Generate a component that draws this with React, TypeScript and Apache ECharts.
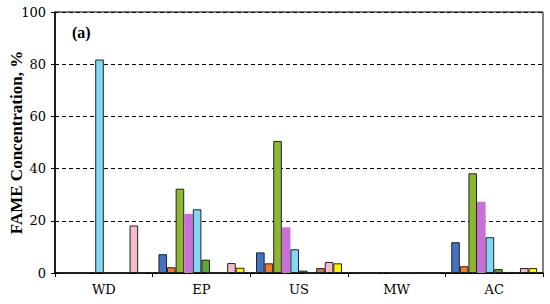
import React, { useEffect, useRef } from "react";
import * as echarts from "echarts";

const categories = ["WD", "EP", "US", "MW", "AC"];
const seriesNames = ["S1", "S2", "S3", "S4", "S5", "S6", "S7", "S8", "S9", "S10"];
const seriesColors = ["#4472C4", "#ED7D31", "#8DB731", "#C870D8", "#82D8F4", "#5FA83C", "#1F3A78", "#C0786A", "#F2BCC8", "#FFF200"];
const s1 = [0, 7.2, 7.9, 0, 11.8];
const s2 = [0, 2.2, 3.7, 0, 2.6];
const s3 = [0, 32.3, 50.6, 0, 38.2];
const s4 = [0, 22.6, 17.5, 0, 27.3];
const s5 = [81.8, 24.4, 9.1, 0, 13.7];
const s6 = [0, 5.1, 0.9, 0, 1.5];
const s7 = [0, 0, 0, 0, 0.4];
const s8 = [0, 0, 1.9, 0, 0.2];
const s9 = [18.2, 3.8, 4.2, 0, 1.9];
const s10 = [0, 2.0, 3.7, 0, 1.9];
const yTicks = [0, 20, 40, 60, 80, 100];

const allData = [s1, s2, s3, s4, s5, s6, s7, s8, s9, s10];
const BOLD_FONT = "Liberation Serif";
const REG_FONT = "DejaVu Serif";

export default function App() {
  const ref = useRef<HTMLDivElement>(null);
  useEffect(() => {
    if (!ref.current) return;
    const chart = echarts.init(ref.current, null, { renderer: "svg" });
    chart.setOption({
      animation: false,
      grid: {
        left: 55,
        right: 7,
        top: 12,
        bottom: 31,
        show: true,
        borderColor: "#000",
        borderWidth: 1,
        containLabel: false,
        outerBoundsMode: "none",
      },
      graphic: [
        {
          type: "text",
          left: 72,
          top: 24,
          style: { text: "(a)", fontFamily: BOLD_FONT, fontSize: 16, fontWeight: "bold", fill: "#000" },
        },
      ],
      xAxis: {
        type: "category",
        data: categories,
        axisLine: { lineStyle: { color: "#000", width: 1.5 } },
        axisTick: { show: true, alignWithLabel: false, length: 4, lineStyle: { color: "#000" } },
        axisLabel: { color: "#000", fontFamily: REG_FONT, fontSize: 13, margin: 10 },
      },
      yAxis: {
        type: "value",
        min: yTicks[0],
        max: yTicks[yTicks.length - 1],
        interval: 20,
        name: "FAME Concentration, %",
        nameLocation: "middle",
        nameGap: 30,
        nameMoveOverlap: false,
        nameTextStyle: { color: "#000", fontFamily: BOLD_FONT, fontSize: 17, fontWeight: "bold" },
        axisLine: { show: true, lineStyle: { color: "#000", width: 1.5 } },
        axisTick: { show: true, length: 4, lineStyle: { color: "#000" } },
        axisLabel: { color: "#000", fontFamily: REG_FONT, fontSize: 13, margin: 9 },
        splitLine: { show: true, lineStyle: { color: "#000", type: [4, 3], width: 1 } },
      },
      series: allData.map((d, i) => ({
        name: seriesNames[i],
        type: "bar",
        data: d,
        barWidth: "8.8%",
        barGap: "0%",
        itemStyle: {
          color: seriesColors[i],
          borderColor: i === 3 ? seriesColors[i] : "#222",
          borderWidth: i === 3 ? 0 : 1,
        },
      })),
    });
    return () => chart.dispose();
  }, []);
  return (
    <div
      ref={ref}
      style={{ position: "absolute", left: 0, top: 0, width: 550, height: 304, background: "#fff" }}
    />
  );
}
